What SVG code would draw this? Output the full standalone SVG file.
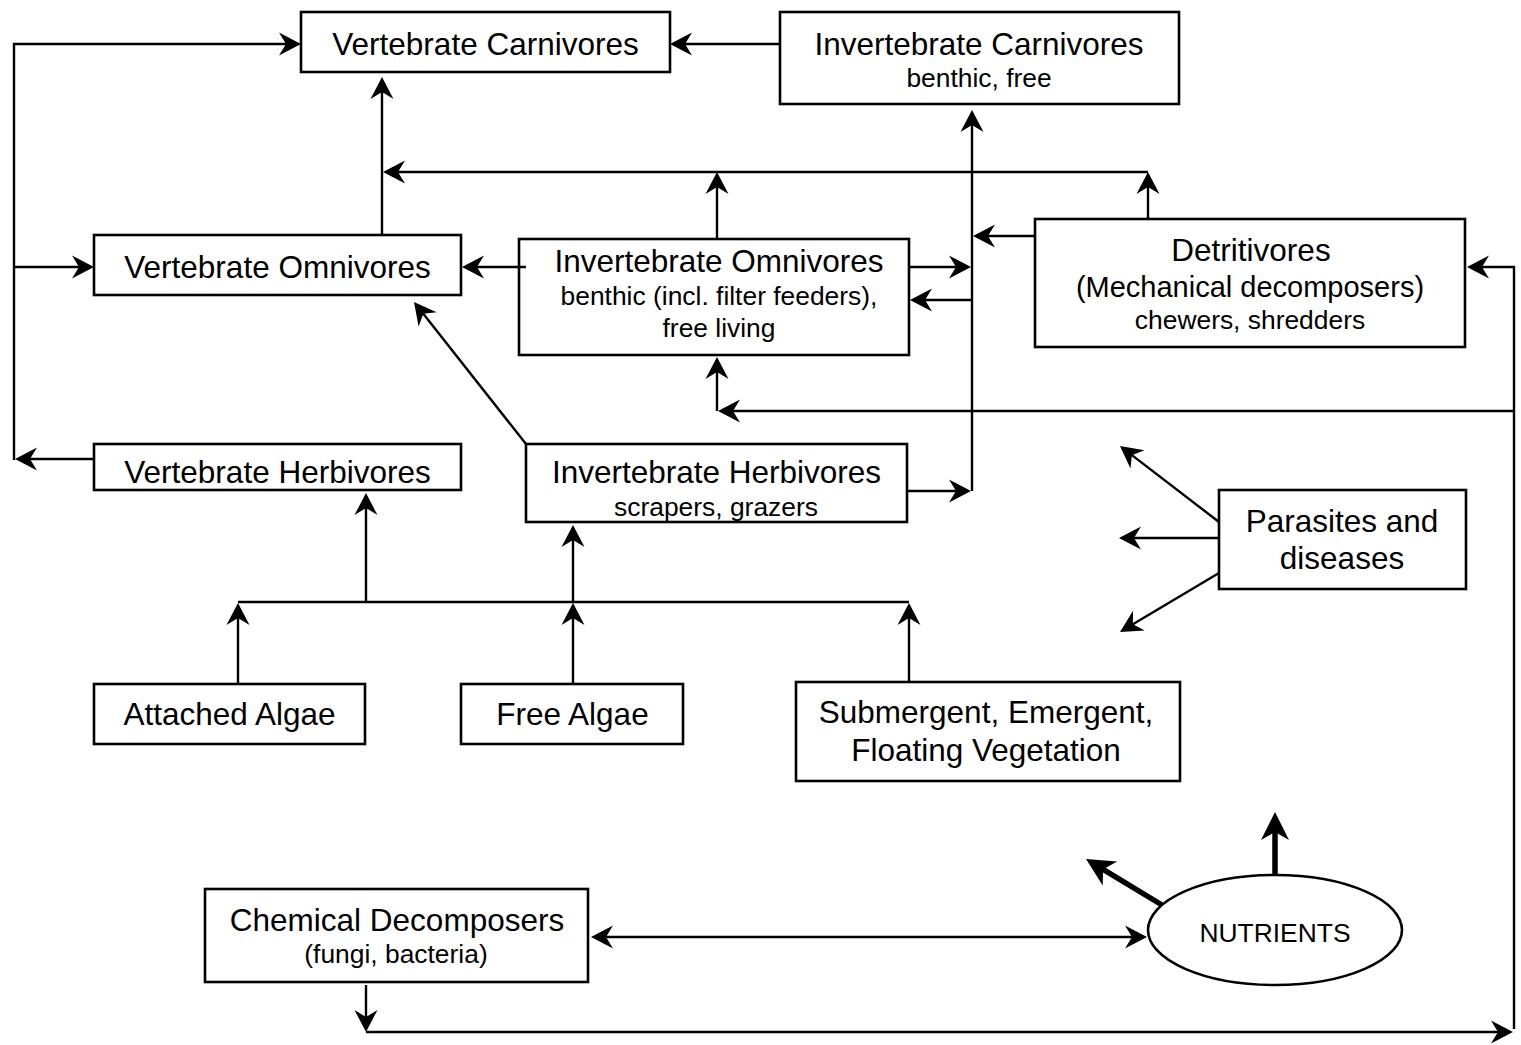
<svg xmlns="http://www.w3.org/2000/svg" width="1521" height="1045" viewBox="0 0 1521 1045">
  <defs>
    <style>
      .box { fill: #fff; stroke: #000; stroke-width: 2.6; }
      .ln { fill: none; stroke: #000; stroke-width: 2.4; }
      .thick { fill: none; stroke: #000; stroke-width: 5.5; }
      .head { fill: #000; stroke: none; }
      text { font-family: "Liberation Sans", Arial, Helvetica, sans-serif; fill: #000; text-anchor: middle; }
      .t1 { font-size: 31.5px; }
      .t2 { font-size: 26.4px; }
      .t3 { font-size: 29px; }
    </style>
    <!-- notched arrowheads, tip at the origin, pointing along +x -->
    <path id="h" class="head" d="M0,0 L-22,-11.5 L-15,0 L-22,11.5 Z"/>
    <path id="hb" class="head" d="M0,0 L-28,-14 L-20,0 L-28,14 Z"/>
  </defs>

  <rect width="1521" height="1045" fill="#fff"/>

  <!-- nodes -->
  <g id="vertebrate-carnivores">
    <rect class="box" x="301" y="12" width="369" height="60"/>
    <text class="t1" x="485.5" y="55">Vertebrate Carnivores</text>
  </g>
  <g id="invertebrate-carnivores">
    <rect class="box" x="780" y="12" width="399" height="92"/>
    <text class="t1" x="979" y="55">Invertebrate Carnivores</text>
    <text class="t2" x="979" y="87">benthic, free</text>
  </g>
  <g id="vertebrate-omnivores">
    <rect class="box" x="94" y="235" width="367" height="60"/>
    <text class="t1" x="277.5" y="278">Vertebrate Omnivores</text>
  </g>
  <g id="invertebrate-omnivores">
    <rect class="box" x="519" y="239" width="390" height="116"/>
    <text class="t1" x="719" y="272">Invertebrate Omnivores</text>
    <text class="t2" x="719" y="305">benthic (incl. filter feeders),</text>
    <text class="t2" x="719" y="337">free living</text>
  </g>
  <g id="detritivores">
    <rect class="box" x="1035" y="219" width="430" height="128"/>
    <text class="t1" x="1251" y="261">Detritivores</text>
    <text class="t3" x="1250" y="297">(Mechanical decomposers)</text>
    <text class="t2" x="1250" y="329">chewers, shredders</text>
  </g>
  <g id="vertebrate-herbivores">
    <rect class="box" x="94" y="444" width="367" height="46"/>
    <text class="t1" x="277.5" y="483">Vertebrate Herbivores</text>
  </g>
  <g id="invertebrate-herbivores">
    <rect class="box" x="526" y="444" width="381" height="78"/>
    <text class="t1" x="716.5" y="483">Invertebrate Herbivores</text>
    <text class="t2" x="716" y="516">scrapers, grazers</text>
  </g>
  <g id="parasites-and-diseases">
    <rect class="box" x="1219" y="490" width="247" height="99"/>
    <text class="t1" x="1342" y="532">Parasites and</text>
    <text class="t1" x="1342" y="569">diseases</text>
  </g>
  <g id="attached-algae">
    <rect class="box" x="94" y="684" width="271" height="60"/>
    <text class="t1" x="229.5" y="725">Attached Algae</text>
  </g>
  <g id="free-algae">
    <rect class="box" x="461" y="684" width="222" height="60"/>
    <text class="t1" x="572.5" y="725">Free Algae</text>
  </g>
  <g id="vegetation">
    <rect class="box" x="796" y="682" width="384" height="99"/>
    <text class="t1" x="986" y="723">Submergent, Emergent,</text>
    <text class="t1" x="986" y="761">Floating Vegetation</text>
  </g>
  <g id="chemical-decomposers">
    <rect class="box" x="205" y="889" width="383" height="93"/>
    <text class="t1" x="397" y="931">Chemical Decomposers</text>
    <text class="t2" x="396" y="963">(fungi, bacteria)</text>
  </g>
  <g id="nutrients">
    <ellipse class="box" cx="1275" cy="930" rx="127" ry="55"/>
    <text class="t2" x="1275" y="942">NUTRIENTS</text>
  </g>

  <!-- connectors -->
  <g id="connectors">
    <!-- outer left loop: herbivores out, up to carnivores and omnivores -->
    <path class="ln" d="M94,459 L30,459"/>
    <use href="#h" transform="translate(15,459) rotate(180)"/>
    <path class="ln" d="M14,460 L14,44 L286,44"/>
    <use href="#h" transform="translate(301,44)"/>
    <path class="ln" d="M14,267 L79,267"/>
    <use href="#h" transform="translate(94,267)"/>

    <!-- into vertebrate carnivores -->
    <path class="ln" d="M780,44 L685,44"/>
    <use href="#h" transform="translate(670,44) rotate(180)"/>
    <path class="ln" d="M382,235 L382,92"/>
    <use href="#h" transform="translate(382,77) rotate(-90)"/>

    <!-- feeder line at y=172 -->
    <path class="ln" d="M1148,172 L398,172"/>
    <use href="#h" transform="translate(383,172) rotate(180)"/>
    <path class="ln" d="M717,239 L717,187"/>
    <use href="#h" transform="translate(717,172) rotate(-90)"/>
    <path class="ln" d="M1148,219 L1148,187"/>
    <use href="#h" transform="translate(1148,172) rotate(-90)"/>

    <!-- vertical collector at x=972 feeding invertebrate carnivores -->
    <path class="ln" d="M972,491 L972,125"/>
    <use href="#h" transform="translate(972,110) rotate(-90)"/>
    <path class="ln" d="M909,267 L956,267"/>
    <use href="#h" transform="translate(971,267)"/>
    <path class="ln" d="M972,300 L925,300"/>
    <use href="#h" transform="translate(910,300) rotate(180)"/>
    <path class="ln" d="M1035,236 L988,236"/>
    <use href="#h" transform="translate(973,236) rotate(180)"/>
    <path class="ln" d="M907,491 L956,491"/>
    <use href="#h" transform="translate(971,491)"/>

    <!-- into vertebrate omnivores -->
    <path class="ln" d="M526,267 L477,267"/>
    <use href="#h" transform="translate(462,267) rotate(180)"/>
    <path class="ln" d="M526,444 L423.3,313.8"/>
    <use href="#h" transform="translate(414,302) rotate(-128.3)"/>

    <!-- right loop from decomposers back to detritivores and invertebrate omnivores -->
    <path class="ln" d="M1514,1029 L1514,267 L1482,267"/>
    <use href="#h" transform="translate(1467,267) rotate(180)"/>
    <path class="ln" d="M1514,411 L733,411"/>
    <use href="#h" transform="translate(718,411) rotate(180)"/>
    <path class="ln" d="M717,411 L717,372"/>
    <use href="#h" transform="translate(717,357) rotate(-90)"/>

    <!-- primary producers up to herbivores -->
    <path class="ln" d="M238,602 L909,602"/>
    <path class="ln" d="M238,684 L238,618"/>
    <use href="#h" transform="translate(238,603) rotate(-90)"/>
    <path class="ln" d="M573,684 L573,618"/>
    <use href="#h" transform="translate(573,603) rotate(-90)"/>
    <path class="ln" d="M909,682 L909,618"/>
    <use href="#h" transform="translate(909,603) rotate(-90)"/>
    <path class="ln" d="M366,602 L366,508"/>
    <use href="#h" transform="translate(366,493) rotate(-90)"/>
    <path class="ln" d="M573,602 L573,540"/>
    <use href="#h" transform="translate(573,525) rotate(-90)"/>

    <!-- parasites and diseases -->
    <path class="ln" d="M1219,522 L1131.9,455.1"/>
    <use href="#h" transform="translate(1120,446) rotate(-142.5)"/>
    <path class="ln" d="M1219,538 L1134,538"/>
    <use href="#h" transform="translate(1119,538) rotate(180)"/>
    <path class="ln" d="M1219,573 L1132.9,624.3"/>
    <use href="#h" transform="translate(1120,632) rotate(149.2)"/>

    <!-- decomposers and nutrients -->
    <path class="ln" d="M606,937 L1132,937"/>
    <use href="#h" transform="translate(591,937) rotate(180)"/>
    <use href="#h" transform="translate(1147,937)"/>
    <path class="ln" d="M366,985 L366,1017"/>
    <use href="#h" transform="translate(366,1032) rotate(90)"/>
    <path class="ln" d="M366,1032 L1498,1032"/>
    <use href="#h" transform="translate(1513,1032)"/>
    <path class="thick" d="M1275,875 L1275,832"/>
    <use href="#hb" transform="translate(1275,812) rotate(-90)"/>
    <path class="thick" d="M1162,905 L1103.1,869.4"/>
    <use href="#hb" transform="translate(1086,859) rotate(-148.8)"/>
  </g>
</svg>
